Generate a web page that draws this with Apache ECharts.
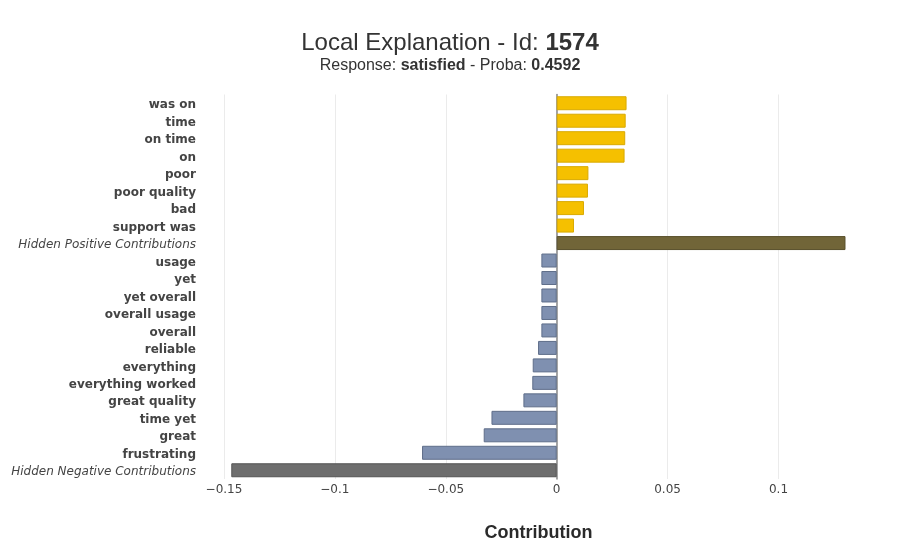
<!DOCTYPE html>
<html>
<head>
<meta charset="utf-8">
<script src="https://cdn.jsdelivr.net/npm/echarts@6/dist/echarts.min.js"></script>
<style>
  html, body { margin: 0; padding: 0; background: #fff; }
  #chart { width: 900px; height: 550px; }
</style>
</head>
<body>
<div id="chart"></div>
<script>
// 特征名称（从上到下）
const features = [
  'was on', 'time', 'on time', 'on', 'poor', 'poor quality', 'bad', 'support was',
  'Hidden Positive Contributions',
  'usage', 'yet', 'yet overall', 'overall usage', 'overall', 'reliable', 'everything',
  'everything worked', 'great quality', 'time yet', 'great', 'frustrating',
  'Hidden Negative Contributions',
]
// 每个特征的贡献值
const contributions = [
  0.0315, 0.0311, 0.0309, 0.0306, 0.0143, 0.0141, 0.0123, 0.0078,
  0.1302,
  -0.0069, -0.0069, -0.0069, -0.0069, -0.0069, -0.0084, -0.0108,
  -0.0110, -0.0150, -0.0294, -0.0329, -0.0607,
  -0.1467,
]

const chart = echarts.init(document.getElementById('chart'))

const isHidden = (name) => name.startsWith('Hidden')

// 颜色: 正/负, 隐藏的用深色
const barData = features.map((name, i) => {
  const v = contributions[i]
  let color = v >= 0 ? '#f5c000' : '#7f90b0'
  let border = v >= 0 ? '#d9aa00' : '#5f6e8a'
  if (isHidden(name)) {
    color = v >= 0 ? '#716538' : '#6e6e6e'
    border = v >= 0 ? '#5a502c' : '#555555'
  }
  return {
    value: v,
    itemStyle: { color, borderColor: border, borderWidth: 1 },
  }
})

const fmtTick = (v) => {
  const r = parseFloat(v.toFixed(4))
  return r < 0 ? '\u2212' + String(-r) : String(r)
}

chart.setOption({
  animation: false,
  title: [
    {
      text: '{n|Local Explanation - Id: }{b|1574}',
      left: 'center',
      top: 26,
      textStyle: {
        fontWeight: 'normal',
        rich: {
          n: { fontFamily: 'Liberation Sans', fontSize: 24, fontWeight: 'normal', color: '#333' },
          b: { fontFamily: 'Liberation Sans', fontSize: 24, fontWeight: 'bold', color: '#333' },
        },
      },
    },
    {
      text: '{n|Response: }{b|satisfied}{n| - Proba: }{b|0.4592}',
      left: 'center',
      top: 53,
      textStyle: {
        fontWeight: 'normal',
        rich: {
          n: { fontFamily: 'Liberation Sans', fontSize: 16, fontWeight: 'normal', color: '#333' },
          b: { fontFamily: 'Liberation Sans', fontSize: 16, fontWeight: 'bold', color: '#333' },
        },
      },
    },
  ],
  grid: {
    left: 204,
    right: 27,
    top: 94.5,
    bottom: 71,
    outerBoundsMode: 'none',
    containLabel: false,
  },
  xAxis: {
    type: 'value',
    min: -0.159,
    max: 0.1426,
    name: 'Contribution',
    nameLocation: 'middle',
    nameGap: 45,
    nameTextStyle: {
      fontFamily: 'Liberation Sans',
      fontSize: 18,
      fontWeight: 'bold',
      color: '#2a2a2a',
    },
    axisLine: { show: false },
    axisTick: { show: false },
    axisLabel: {
      showMinLabel: false,
      showMaxLabel: false,
      margin: 5,
      fontFamily: 'DejaVu Sans',
      fontSize: 12,
      color: '#444',
      formatter: fmtTick,
    },
    splitLine: {
      show: true,
      showMinLine: false,
      showMaxLine: false,
      lineStyle: { color: '#ebebeb', width: 1 },
    },
  },
  yAxis: {
    type: 'category',
    inverse: true,
    data: features,
    axisTick: { show: false },
    axisLine: {
      show: true,
      onZero: true,
      lineStyle: { color: '#888', width: 1.5 },
    },
    axisLabel: {
      margin: 8,
      interval: 0,
      formatter: (name) => (isHidden(name) ? '{h|' + name + '}' : '{b|' + name + '}'),
      rich: {
        b: { fontFamily: 'DejaVu Sans', fontSize: 12, fontWeight: 'bold', color: '#444', padding: [4, 0, 0, 0] },
        h: { fontFamily: 'DejaVu Sans', fontSize: 12, fontStyle: 'italic', color: '#444', padding: [4, 0, 0, 0] },
      },
    },
  },
  series: [
    {
      type: 'bar',
      data: barData,
      barWidth: '80%',
    },
  ],
})
</script>
</body>
</html>
